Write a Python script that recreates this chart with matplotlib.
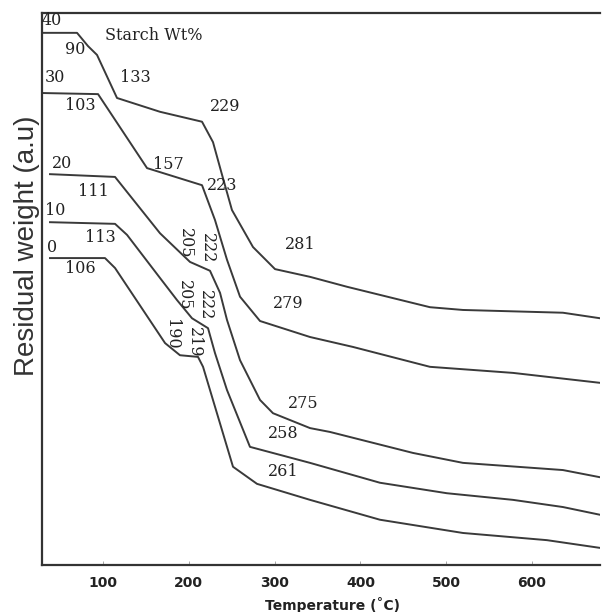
import matplotlib
matplotlib.use("Agg")
import matplotlib.pyplot as plt


# ----------------------------
# 1. Data
# ----------------------------

starch_levels = ["40", "30", "20", "10", "0"]

temp_40 = [28.9, 69.7, 82.5, 93.0, 116.3, 166.4, 215.4, 228.2, 238.7, 250.3,
           274.8, 300.5, 341.3, 384.4, 481.1, 519.6, 636.1, 679.3]
weight_40 = [96.4, 96.4, 94.0, 92.4, 84.6, 82.1, 80.3, 76.6, 70.7, 64.3,
             57.6, 53.6, 52.2, 50.4, 46.7, 46.2, 45.7, 44.7]

temp_30 = [28.9, 94.2, 151.3, 215.4, 230.5, 244.5, 259.7, 283.0, 341.3,
           391.4, 481.1, 577.9, 679.3]
weight_30 = [85.5, 85.3, 71.9, 68.8, 62.5, 55.3, 48.6, 44.2, 41.3,
             39.5, 35.9, 34.8, 33.0]

temp_20 = [38.2, 114.0, 166.4, 201.4, 224.7, 236.4, 244.5, 259.7, 283.0,
           298.1, 341.3, 364.6, 461.3, 519.6, 636.1, 679.3]
weight_20 = [70.8, 70.3, 60.1, 54.9, 53.3, 49.3, 44.4, 37.1, 29.9,
             27.5, 24.8, 24.1, 20.3, 18.5, 17.2, 15.9]

temp_10 = [38.2, 114.0, 128.0, 166.4, 186.2, 203.7, 222.4, 230.5, 244.5,
           271.3, 341.3, 422.8, 500.9, 577.9, 636.1, 679.3]
weight_10 = [62.1, 61.8, 59.8, 52.0, 48.0, 44.7, 42.9, 38.4, 31.7,
             21.4, 18.5, 14.9, 13.0, 11.8, 10.5, 9.1]

temp_0 = [38.2, 102.3, 114.0, 172.3, 189.7, 210.7, 216.6, 251.5, 279.5,
          341.3, 422.8, 519.6, 617.5, 679.3]
weight_0 = [55.6, 55.6, 53.8, 40.2, 38.0, 37.7, 35.9, 17.8, 14.7,
            11.8, 8.2, 5.8, 4.5, 3.1]

# onset / transition temperatures written next to the curves
onset_labels = ["90", "133", "229", "281",
                "103", "157", "223", "279",
                "111", "205", "222", "275",
                "113", "205", "222", "258",
                "106", "190", "219", "261"]

x_ticks = [100, 200, 300, 400, 500, 600]


# ----------------------------
# 2. Figure
# ----------------------------

fig = plt.figure(figsize=(6.03, 6.12), dpi=100)
ax = fig.add_axes([0.0697, 0.0768, 0.9253, 0.902])

line_color = "#3a3a3a"
curves = [(temp_40, weight_40), (temp_30, weight_30), (temp_20, weight_20),
          (temp_10, weight_10), (temp_0, weight_0)]
for t, w in curves:
    ax.plot(t, w, color=line_color, lw=1.4)

ax.set_xlim(28.9, 679.3)
ax.set_ylim(0, 100)

ax.set_xticks(x_ticks)
ax.set_xticklabels([str(v) for v in x_ticks], fontsize=10, fontweight="bold",
                   family="DejaVu Sans", color="#222222")
ax.tick_params(axis="x", direction="in", length=3, width=0.6, pad=8,
               color="#999999")
ax.set_yticks([])

ax.spines["right"].set_visible(False)
for side in ["left", "top", "bottom"]:
    ax.spines[side].set_color("#333333")
    ax.spines[side].set_linewidth(1.6)

ax.set_xlabel("Temperature (˚C)", fontsize=10, fontweight="bold",
              family="DejaVu Sans", color="#222222", labelpad=4)
ax.xaxis.set_label_coords(0.52, -0.058)
fig.text(0.045, 1 - 246 / 612, "Residual weight (a.u)", rotation=90,
         ha="center", va="center", fontsize=20, family="Liberation Sans",
         color="#333333")


# ----------------------------
# 3. Annotations
# ----------------------------

serif = dict(family="DejaVu Serif", fontsize=11.5, color="#222222")

# curve names at the left edge
level_pos = [(28.9, 98.6), (32.4, 88.4), (40.6, 72.8), (32.4, 64.3), (34.7, 57.6)]
for name, (tx, ty) in zip(starch_levels, level_pos):
    ax.text(tx, ty, name, ha="left", va="center", **serif)

ax.text(102.3, 96.0, "Starch Wt%", ha="left", va="center", **serif)

label_pos = [(67.4, 93.3, 0), (137.3, 88.4, 0), (242.2, 83.0, 0), (329.6, 58.0, 0),
             (73.2, 83.3, 0), (175.8, 72.5, 0), (238.7, 68.7, 0), (315.6, 47.3, 0),
             (88.3, 67.6, 0), (195.6, 58.3, -90), (221.2, 57.4, -90), (333.1, 29.2, 0),
             (96.5, 59.4, 0), (194.4, 48.9, -90), (218.9, 47.1, -90), (309.8, 23.9, 0),
             (73.2, 53.8, 0), (180.4, 41.8, -90), (206.1, 40.4, -90), (309.8, 17.0, 0)]
for text, (tx, ty, rot) in zip(onset_labels, label_pos):
    ax.text(tx, ty, text, ha="center", va="center", rotation=rot,
            rotation_mode="anchor", **serif)

plt.savefig("out.png", dpi=100)
plt.close()
